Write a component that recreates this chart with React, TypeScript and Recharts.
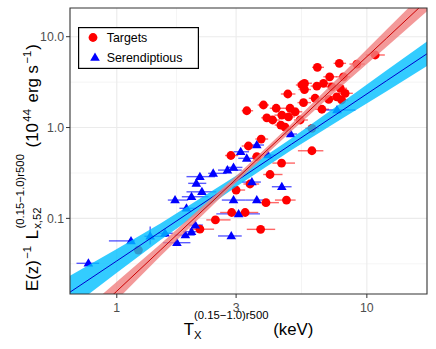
import React from 'react';
import {
  ComposedChart,
  Scatter,
  Area,
  Line,
  XAxis,
  YAxis,
  CartesianGrid,
  ErrorBar,
  ReferenceArea,
} from 'recharts';

const FONT = '"Liberation Sans", Arial, Helvetica, sans-serif';

const X_DOMAIN = [0.65, 17.4];
const Y_DOMAIN = [0.0147, 20.7];
const X_TICKS = [1, 3, 10];
const Y_TICKS = [0.1, 1, 10];
const X_MINOR = [1.732, 5.477];
const Y_MINOR = [0.0316, 0.316, 3.162];

// [T (keV), L, T err minus, T err plus]
const targets: number[][] = [
  [1.22, 0.0448, 0.05, 0.05],
  [2.15, 0.076, 0.2, 0.3],
  [2.48, 0.0962, 0.2, 0.37],
  [2.88, 0.116, 0.29, 0.28],
  [3.26, 0.116, 0.12, 0.42],
  [3.76, 0.0757, 0.45, 0.54],
  [3.0, 0.205, 0.1, 0.26],
  [3.41, 0.239, 0.2, 0.3],
  [3.95, 0.149, 0.24, 0.5],
  [4.77, 0.159, 0.48, 0.42],
  [4.1, 0.304, 0.25, 0.5],
  [4.56, 0.406, 0.37, 0.6],
  [6.03, 0.555, 0.73, 0.67],
  [3.63, 0.477, 0.15, 0.2],
  [3.36, 0.626, 0.2, 0.2],
  [2.86, 0.492, 0.15, 0.2],
  [3.78, 0.747, 0.2, 0.25],
  [3.31, 1.53, 0.15, 0.2],
  [3.86, 1.77, 0.2, 0.2],
  [4.34, 1.63, 0.25, 0.3],
  [4.83, 2.34, 0.3, 0.35],
  [5.5, 2.94, 0.3, 0.35],
  [5.58, 1.88, 0.3, 0.4],
  [3.98, 1.28, 0.2, 0.35],
  [4.2, 1.21, 0.2, 0.3],
  [4.57, 1.37, 0.3, 0.3],
  [4.93, 1.63, 0.3, 0.35],
  [4.86, 1.31, 0.25, 0.3],
  [4.53, 1.065, 0.25, 0.3],
  [4.71, 1.01, 0.3, 0.3],
  [5.41, 1.21, 0.3, 0.4],
  [6.34, 4.6, 0.3, 0.4],
  [7.76, 5.09, 0.4, 0.5],
  [10.8, 6.29, 0.9, 1.0],
  [5.63, 3.07, 0.35, 0.4],
  [6.31, 2.86, 0.35, 0.4],
  [6.71, 3.07, 0.4, 0.45],
  [7.1, 3.62, 0.4, 0.5],
  [8.06, 3.62, 0.5, 0.5],
  [5.63, 2.62, 0.3, 0.35],
  [7.83, 2.7, 0.45, 0.5],
  [8.19, 2.38, 0.5, 0.6],
  [6.21, 2.1, 0.35, 0.4],
  [7.04, 2.04, 0.4, 0.45],
  [7.58, 2.18, 0.45, 0.5],
  [7.93, 2.01, 0.45, 0.5],
  [6.61, 1.59, 0.4, 0.45],
  [6.03, 0.98, 0.35, 0.4],
  [9.12, 5.0, 0.6, 0.7],
  [7.25, 2.81, 0.4, 0.45],
  [5.17, 1.49, 0.3, 0.35],
];

// [T (keV), L, T err minus, T err plus, L err minus, L err plus]
const serendipitous: number[][] = [
  [0.77, 0.032, 0.08, 0.08, 0, 0],
  [1.14, 0.0565, 0.21, 0.04, 0, 0],
  [1.36, 0.0635, 0.07, 0.23, 0.012, 0.018],
  [1.56, 0.0685, 0.1, 0.12, 0, 0],
  [1.74, 0.054, 0.21, 0.23, 0, 0],
  [1.88, 0.0655, 0.18, 0.17, 0, 0],
  [1.99, 0.0714, 0.15, 0.2, 0, 0],
  [2.06, 0.0843, 0.12, 0.15, 0, 0],
  [1.71, 0.159, 0.11, 0.22, 0, 0],
  [1.99, 0.173, 0.17, 0.34, 0, 0],
  [2.19, 0.196, 0.29, 0.31, 0, 0],
  [1.9, 0.129, 0.12, 0.18, 0, 0],
  [2.15, 0.288, 0.25, 0.32, 0, 0],
  [2.08, 0.243, 0.15, 0.2, 0, 0],
  [2.43, 0.313, 0.11, 0.32, 0, 0],
  [2.77, 0.34, 0.23, 0.39, 0, 0],
  [2.93, 0.364, 0.2, 0.25, 0, 0],
  [3.13, 0.541, 0.2, 0.25, 0, 0],
  [3.31, 0.458, 0.25, 0.3, 0, 0],
  [2.93, 0.159, 0.3, 0.35, 0, 0],
  [3.07, 0.112, 0.57, 0.67, 0, 0],
  [3.47, 0.251, 0.3, 0.3, 0, 0],
  [3.63, 0.159, 0.35, 0.3, 0, 0],
  [4.57, 0.223, 0.4, 0.43, 0, 0],
  [2.87, 0.064, 0.33, 0.29, 0, 0],
  [3.63, 0.642, 0.2, 0.25, 0, 0],
  [4.96, 0.848, 0.25, 0.3, 0, 0],
  [7.6, 1.56, 1.0, 1.4, 0, 0],
  [4.02, 0.498, 0.25, 0.3, 0, 0],
];

// fitted relations and their confidence bands, read at these temperatures
const fitT = [0.65, 1, 1.5, 3, 5, 8, 12, 17.4];
const targetsFit = [0.00521, 0.0158, 0.0451, 0.27, 1.008, 3.39, 9.64, 25.1];
const targetsLo = [0.00378, 0.0126, 0.0388, 0.249, 0.918, 2.92, 7.74, 19.05];
const targetsHi = [0.0072, 0.02, 0.0524, 0.292, 1.104, 3.94, 12.0, 33.1];
const serenFit = [0.0154, 0.034, 0.0717, 0.2564, 0.656, 1.555, 3.28, 6.49];
const serenLo = [0.0102, 0.0252, 0.0583, 0.2234, 0.565, 1.264, 2.51, 4.75];
const serenHi = [0.0233, 0.0459, 0.0882, 0.2944, 0.762, 1.913, 4.27, 8.85];

const targetData = targets.map(([T, L, a, b]) => ({ T, L, ex: [a, b] }));
const serenData = serendipitous.map(([T, L, a, b, c, d]) => ({ T, L, ex: [a, b], ey: [c, d] }));
const targetBand = fitT.map((T, i) => ({ T, fit: targetsFit[i], band: [targetsLo[i], targetsHi[i]] }));
const serenBand = fitT.map((T, i) => ({ T, fit: serenFit[i], band: [serenLo[i], serenHi[i]] }));

const RedDot = (p: any) => <circle cx={p.cx} cy={p.cy} r={4.4} fill="#FF0000" />;
const BlueTri = (p: any) => (
  <path
    d={`M${p.cx},${p.cy - 5}L${p.cx + 4.8},${p.cy + 3.3}L${p.cx - 4.8},${p.cy + 3.3}Z`}
    fill="#0000FF"
  />
);

const XTitle = (props: any) => {
  const vb = props.viewBox;
  return (
    <text x={vb.x + vb.width / 2} y={vb.y + 41} textAnchor="middle" fontSize={16.8} fontFamily={FONT} fill="#000">
      T
      <tspan fontSize={11.3} dy={3.5}>X</tspan>
      <tspan fontSize={11.3} dx={-7.5} dy={-19.5}>(0.15−1.0)r500</tspan>
      <tspan dy={16}> (keV)</tspan>
    </text>
  );
};

// rotated title: written from its start, each piece on its own baseline
const YTitle = (props: any) => {
  const vb = props.viewBox;
  const cy = vb.y + vb.height / 2;
  const sup = 11.3;
  return (
    <text
      transform={`translate(37.5,${cy}) rotate(-90)`}
      x={-140}
      y={0}
      textAnchor="start"
      fontSize={16.8}
      fontFamily={FONT}
      fill="#000"
    >
      <tspan y={0}>E(z)</tspan>
      <tspan y={-7} dx={1.5} fontSize={sup}>−1</tspan>
      <tspan y={0} dx={2}>{'\u00a0L'}</tspan>
      <tspan y={3.5} dx={1} fontSize={sup}>x,52</tspan>
      <tspan y={-14} dx={-21} fontSize={sup}>(0.15−1.0)r500</tspan>
      <tspan y={0} dx={2}>{'\u00a0(10'}</tspan>
      <tspan y={-7} dx={1.5} fontSize={sup}>44</tspan>
      <tspan y={0} dx={2}>{'\u00a0erg\u00a0s'}</tspan>
      <tspan y={-7} dx={1.5} fontSize={sup}>−1</tspan>
      <tspan y={0} dx={1}>)</tspan>
    </text>
  );
};

const LegendBox = () => (
  <svg
    width={121}
    height={42}
    style={{ position: 'absolute', left: 78, top: 27, overflow: 'visible' }}
  >
    <rect x={0.6} y={0.6} width={119.8} height={40.8} fill="#fff" stroke="#000" strokeWidth={1.2} />
    <circle cx={15} cy={10.5} r={4.4} fill="#FF0000" />
    <path d="M17,25.5L21.8,33.8L12.2,33.8Z" fill="#0000FF" />
    <text x={28.7} y={14.8} fontSize={12.4} fontFamily={FONT} fill="#000">Targets</text>
    <text x={28.7} y={34.8} fontSize={12.4} fontFamily={FONT} fill="#000">Serendiptious</text>
  </svg>
);

const tickStyle = { fill: '#4D4D4D', fontSize: 12.3, fontFamily: FONT };

export default function App() {
  return (
    <div style={{ position: 'absolute', left: 0, top: 0, width: 436, height: 349, background: '#fff' }}>
      <ComposedChart width={436} height={349} margin={{ top: 8, right: 9, bottom: 0, left: 0 }}>
        <CartesianGrid
          stroke="#EBEBEB"
          strokeWidth={0.55}
          verticalValues={X_MINOR}
          horizontalValues={Y_MINOR}
        />
        <CartesianGrid
          stroke="#EBEBEB"
          strokeWidth={1.1}
          verticalValues={X_TICKS}
          horizontalValues={Y_TICKS}
        />
        <XAxis
          dataKey="T"
          type="number"
          scale="log"
          domain={X_DOMAIN}
          allowDataOverflow
          ticks={X_TICKS}
          interval={0}
          height={55}
          axisLine={false}
          tickLine={{ stroke: '#333333' }}
          tickSize={4}
          tickMargin={5}
          tick={tickStyle}
          tickFormatter={(v: number) => String(v)}
          label={{ content: XTitle }}
        />
        <YAxis
          dataKey="L"
          type="number"
          scale="log"
          domain={Y_DOMAIN}
          allowDataOverflow
          ticks={Y_TICKS}
          interval={0}
          width={70}
          axisLine={false}
          tickLine={{ stroke: '#333333' }}
          tickSize={4}
          tickMargin={2}
          tick={tickStyle}
          tickFormatter={(v: number) => v.toFixed(1)}
          label={{ content: YTitle }}
        />
        <Scatter data={targetData} shape={RedDot} isAnimationActive={false}>
          <ErrorBar dataKey="ex" direction="x" width={0} stroke="#FF0000" strokeOpacity={0.6} strokeWidth={1.4} />
        </Scatter>
        <Scatter data={serenData} shape={BlueTri} isAnimationActive={false}>
          <ErrorBar dataKey="ex" direction="x" width={0} stroke="#0000FF" strokeOpacity={0.65} strokeWidth={1.4} />
          <ErrorBar dataKey="ey" direction="y" width={0} stroke="#0000FF" strokeOpacity={0.65} strokeWidth={1.4} />
        </Scatter>
        <Area
          data={serenBand}
          dataKey="band"
          type="linear"
          stroke="none"
          fill="#00BFFF"
          fillOpacity={0.8}
          isAnimationActive={false}
          zIndex={700}
        />
        <Line
          data={serenBand}
          dataKey="fit"
          type="linear"
          stroke="#0000CD"
          strokeWidth={1}
          dot={false}
          isAnimationActive={false}
          zIndex={710}
        />
        <Area
          data={targetBand}
          dataKey="band"
          type="linear"
          stroke="none"
          fill="#F08080"
          fillOpacity={0.8}
          isAnimationActive={false}
          zIndex={720}
        />
        <Line
          data={targetBand}
          dataKey="fit"
          type="linear"
          stroke="#CC0000"
          strokeWidth={1}
          dot={false}
          isAnimationActive={false}
          zIndex={730}
        />
        <ReferenceArea
          x1={X_DOMAIN[0]}
          x2={X_DOMAIN[1]}
          y1={Y_DOMAIN[0]}
          y2={Y_DOMAIN[1]}
          fill="none"
          stroke="#333333"
          strokeWidth={1.1}
          ifOverflow="visible"
          zIndex={800}
        />
      </ComposedChart>
      <LegendBox />
    </div>
  );
}
